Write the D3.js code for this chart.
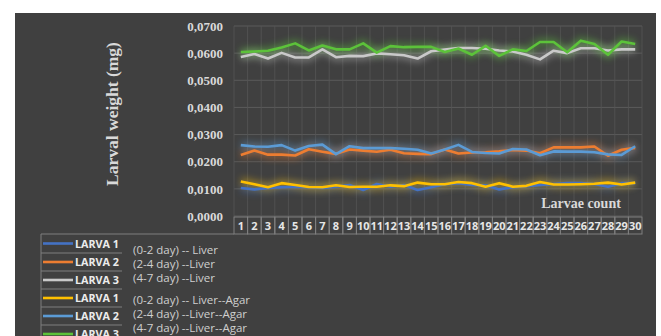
<!DOCTYPE html>
<html><head><meta charset="utf-8">
<script src="https://cdn.jsdelivr.net/npm/d3@7"></script>
<style>
html,body{margin:0;padding:0;background:#fff;}
svg{display:block;}
</style></head>
<body>
<script>
const categories = d3.range(1, 31).map(String);
const yTicks = [0, 0.01, 0.02, 0.03, 0.04, 0.05, 0.06, 0.07];
const yTickLabels = ["0,0000","0,0100","0,0200","0,0300","0,0400","0,0500","0,0600","0,0700"];

const liver1 = [0.0103,0.0098,0.0103,0.0106,0.0108,0.0106,0.0103,0.0108,0.0114,0.0096,0.0118,0.0108,0.0114,0.0096,0.0106,0.0117,0.0121,0.0114,0.0113,0.0098,0.0106,0.0110,0.0114,0.0118,0.0121,0.0121,0.0118,0.0108,0.0121,0.0121];
const liver2 = [0.0225,0.0241,0.0226,0.0226,0.0223,0.0246,0.0237,0.0229,0.0245,0.0241,0.0237,0.0244,0.0231,0.0229,0.0228,0.0245,0.0230,0.0234,0.0235,0.0238,0.0243,0.0241,0.0231,0.0253,0.0253,0.0253,0.0256,0.0222,0.0244,0.0251];
const liver3 = [0.0586,0.0597,0.0580,0.0601,0.0584,0.0584,0.0614,0.0585,0.0590,0.0589,0.0599,0.0596,0.0592,0.0580,0.0607,0.0613,0.0619,0.0619,0.0616,0.0610,0.0606,0.0594,0.0577,0.0609,0.0600,0.0618,0.0618,0.0610,0.0614,0.0614];
const agar1 = [0.0127,0.0117,0.0106,0.0121,0.0114,0.0107,0.0106,0.0113,0.0107,0.0108,0.0108,0.0113,0.0110,0.0123,0.0117,0.0117,0.0125,0.0121,0.0108,0.0121,0.0108,0.0111,0.0125,0.0116,0.0116,0.0117,0.0119,0.0123,0.0116,0.0123];
const agar2 = [0.0261,0.0256,0.0255,0.0261,0.0241,0.0258,0.0263,0.0228,0.0257,0.0250,0.0250,0.0250,0.0248,0.0244,0.0230,0.0245,0.0262,0.0236,0.0232,0.0230,0.0247,0.0245,0.0224,0.0238,0.0237,0.0237,0.0235,0.0227,0.0225,0.0257];
const agar3 = [0.0604,0.0606,0.0609,0.0621,0.0636,0.0610,0.0628,0.0614,0.0614,0.0636,0.0602,0.0626,0.0622,0.0623,0.0623,0.0604,0.0617,0.0594,0.0627,0.0590,0.0614,0.0608,0.0641,0.0641,0.0603,0.0646,0.0634,0.0594,0.0643,0.0634];

const seriesNames = ["LARVA 1","LARVA 2","LARVA 3","LARVA 1","LARVA 2","LARVA 3"];
const seriesNotes = ["(0-2 day) -- Liver","(2-4 day) --Liver","(4-7 day) --Liver","(0-2 day) -- Liver--Agar","(2-4 day) --Liver--Agar","(4-7 day) --Liver--Agar"];
const seriesValues = [liver1, liver2, liver3, agar1, agar2, agar3];
const seriesColors = ["#4472C4","#ED7D31","#C9C9C9","#FFC000","#5B9BD5","#5CC23A"];

const W = 661, H = 336;
const svg = d3.select("body").append("svg").attr("width", W).attr("height", H);

const defs = svg.append("defs");
defs.append("filter").attr("id","glow").attr("x","-10%").attr("y","-200%").attr("width","120%").attr("height","500%")
  .append("feGaussianBlur").attr("stdDeviation", 3.5);

// background panel
svg.append("rect").attr("x",15).attr("y",13).attr("width",641).attr("height",H-13).attr("fill","#404040");

const x = d3.scaleBand().domain(categories).range([234, 642]).padding(0);
const y = d3.scaleLinear().domain([0, 0.07]).range([216, 26]);

// gridlines
const grid = svg.append("g");
grid.selectAll("line.h").data(yTicks).join("line")
  .attr("x1", 234).attr("x2", 642)
  .attr("y1", d => y(d)).attr("y2", d => y(d))
  .attr("stroke", "#5a5a5a").attr("stroke-width", 1);
grid.selectAll("line.v").data(categories).join("line")
  .attr("x1", d => x(d)).attr("x2", d => x(d))
  .attr("y1", y(0.07)).attr("y2", y(0))
  .attr("stroke", "#555").attr("stroke-width", 0.8);
grid.append("line").attr("x1",642).attr("x2",642).attr("y1",y(0.07)).attr("y2",y(0)).attr("stroke","#555").attr("stroke-width",0.8);

// y axis labels
const yAxis = d3.axisLeft(y).tickValues(yTicks).tickSize(0).tickPadding(11)
  .tickFormat((d,i) => yTickLabels[i]);
const ya = svg.append("g").attr("transform","translate(234,0)").call(yAxis);
ya.select(".domain").remove();
ya.selectAll("text").attr("fill","#d9d9d9").attr("font-family","'Liberation Serif', serif")
  .attr("font-weight","bold").attr("font-size","13px");

// y title
svg.append("text").attr("transform","translate(118,114) rotate(-90)")
  .attr("text-anchor","middle").attr("fill","#d9d9d9")
  .attr("font-family","'Liberation Serif', serif").attr("font-weight","bold").attr("font-size","17.5px")
  .text("Larval weight (mg)");

// x title
svg.append("text").attr("x",581).attr("y",208).attr("text-anchor","middle").attr("fill","#d9d9d9")
  .attr("font-family","'Liberation Serif', serif").attr("font-weight","bold").attr("font-size","14px")
  .text("Larvae count");

// category table axis
const cat = svg.append("g");
cat.selectAll("rect").data(categories).join("rect")
  .attr("x", d => x(d)).attr("y", 217).attr("width", x.bandwidth()).attr("height", 17)
  .attr("fill","none").attr("stroke","#7f7f7f").attr("stroke-width",1);
cat.selectAll("text").data(categories).join("text")
  .attr("x", d => x(d) + x.bandwidth()/2).attr("y", 230)
  .attr("text-anchor","middle").attr("fill","#e6e6e6")
  .attr("font-family","'Open Sans', sans-serif").attr("font-weight","bold").attr("font-size","11px")
  .attr("textLength", d => d.length > 1 ? 12.6 : null)
  .attr("lengthAdjust","spacingAndGlyphs")
  .text(d => d);

// lines
const line = d3.line().x((d,i) => x(categories[i]) + x.bandwidth()/2).y(d => y(d));
const lg = svg.append("g");
seriesValues.forEach((vals, k) => {
  lg.append("path").attr("d", line(vals)).attr("fill","none")
    .attr("stroke", seriesColors[k]).attr("stroke-width", 8).attr("opacity", 0.4)
    .attr("filter","url(#glow)");
});
seriesValues.forEach((vals, k) => {
  lg.append("path").attr("d", line(vals)).attr("fill","none")
    .attr("stroke", seriesColors[k]).attr("stroke-width", 2.6)
    .attr("stroke-linejoin","round");
});

// legend table
const leg = svg.append("g");
const rowY = [234, 253, 271, 289, 307, 325, 343];
leg.append("line").attr("x1",41).attr("x2",234).attr("y1",234).attr("y2",234).attr("stroke","#7f7f7f");
leg.append("line").attr("x1",41).attr("x2",41).attr("y1",234).attr("y2",H).attr("stroke","#7f7f7f");
seriesNames.forEach((nm, k) => {
  const top = rowY[k], bot = rowY[k+1];
  const cy = (top + bot) / 2;
  if (k > 0) leg.append("line").attr("x1",41).attr("x2",122).attr("y1",top).attr("y2",top).attr("stroke","#7f7f7f");
  leg.append("line").attr("x1",43).attr("x2",73).attr("y1",cy).attr("y2",cy)
    .attr("stroke",seriesColors[k]).attr("stroke-width",2.6);
  leg.append("text").attr("x",75).attr("y",cy+4).attr("fill","#ececec")
    .attr("font-family","'Open Sans', sans-serif").attr("font-weight","bold").attr("font-size","11px")
    .attr("textLength",44).attr("lengthAdjust","spacingAndGlyphs").text(nm);
});
const noteY = [250, 264, 278, 300, 314, 328];
seriesNotes.forEach((t, k) => {
  leg.append("text").attr("x",133).attr("y",noteY[k]+4).attr("fill","#cfcfcf")
    .attr("font-family","'Open Sans', sans-serif").attr("font-size","11.5px").text(t);
});
</script>
</body></html>
